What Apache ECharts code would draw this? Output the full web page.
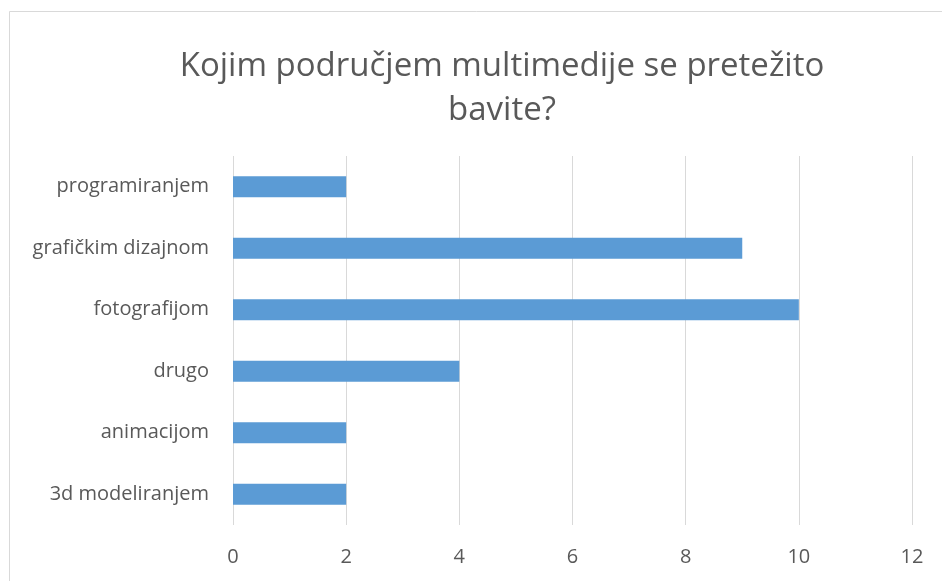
<!DOCTYPE html>
<html>
<head>
<meta charset="utf-8">
<script src="https://cdn.jsdelivr.net/npm/echarts@6/dist/echarts.min.js"></script>
<style>
html,body{margin:0;padding:0;background:#fff;}
#main{width:942px;height:581px;}
</style>
</head>
<body>
<div id="main"></div>
<script>
var categories = ['3d modeliranjem', 'animacijom', 'drugo', 'fotografijom', 'grafičkim dizajnom', 'programiranjem'];
var values = [2, 2, 4, 10, 9, 2];
var titleText = 'Kojim područjem multimedije se pretežito\nbavite?';

var myChart = echarts.init(document.getElementById('main'));
var font = 'Open Sans';

var option = {
    animation: false,
    backgroundColor: '#fff',
    graphic: [{
        type: 'rect',
        shape: {x: 9.5, y: 11.5, width: 1200, height: 1200},
        style: {fill: 'none', stroke: '#d9d9d9', lineWidth: 1},
        silent: true
    }],
    title: {
        text: titleText,
        left: 497,
        top: 40,
        textAlign: 'center',
        textStyle: {
            fontFamily: font,
            fontSize: 33,
            fontWeight: 'normal',
            color: '#595959',
            lineHeight: 44
        }
    },
    grid: {
        left: 233,
        right: 30,
        top: 156,
        bottom: 56
    },
    xAxis: {
        type: 'value',
        min: 0,
        max: 12,
        interval: 2,
        axisLine: {show: false},
        axisTick: {show: false},
        axisLabel: {
            margin: 22,
            fontFamily: font,
            fontSize: 20,
            color: '#595959'
        },
        splitLine: {
            lineStyle: {color: '#d9d9d9', width: 1}
        }
    },
    yAxis: {
        type: 'category',
        data: categories,
        axisLine: {show: false},
        axisTick: {show: false},
        axisLabel: {
            margin: 24,
            fontFamily: font,
            fontSize: 20,
            color: '#595959'
        }
    },
    series: [{
        type: 'bar',
        data: values,
        barWidth: 21,
        itemStyle: {color: '#5b9bd5'}
    }]
};

myChart.setOption(option);
</script>
</body>
</html>
